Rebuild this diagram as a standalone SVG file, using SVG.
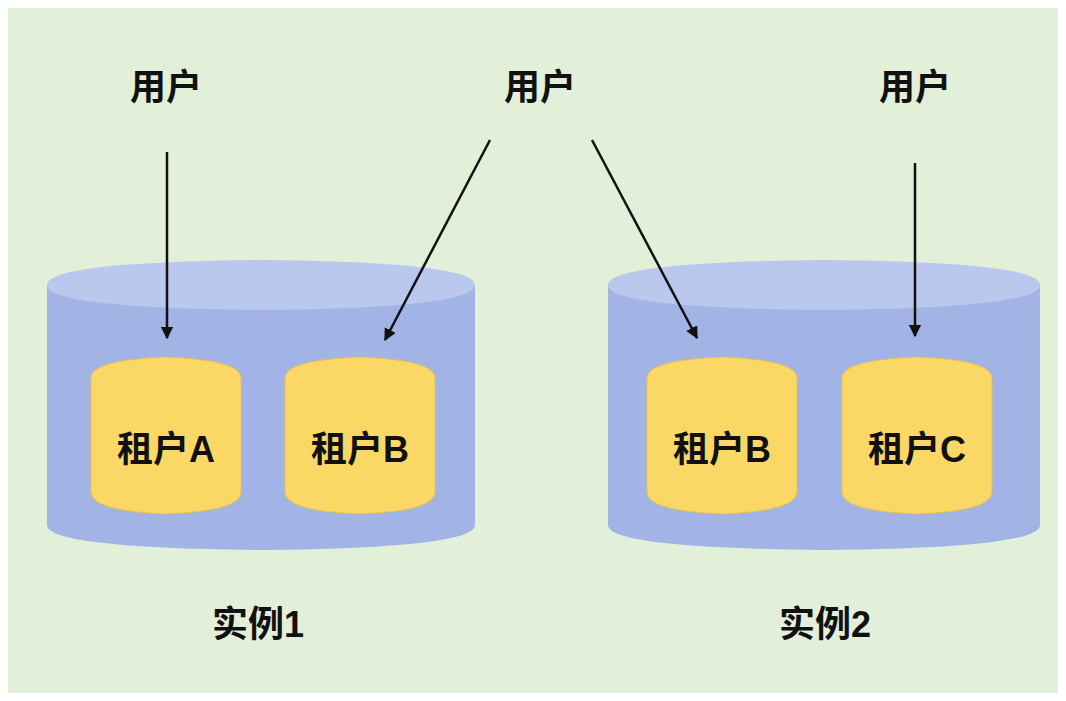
<svg xmlns="http://www.w3.org/2000/svg" width="1066" height="701" viewBox="0 0 1066 701">
<defs>
<style>
.lbl{font-family:"Liberation Sans","Noto Sans CJK SC",sans-serif;font-weight:bold;font-size:36px;fill:#111;text-anchor:middle}
.body{fill:#a2b3e5}
.top{fill:#bac8ee}
.tenant{fill:#fbd866;stroke:#e9c24e;stroke-width:1}
.conn{stroke:#111;stroke-width:2.5;fill:none;marker-end:url(#ah)}
</style>
<marker id="ah" viewBox="0 0 10 10" refX="9" refY="5" markerWidth="5" markerHeight="5" orient="auto" markerUnits="strokeWidth">
<path d="M0,0 L10,5 L0,10 Z" fill="#111"/>
</marker>
</defs>
<rect width="1066" height="701" fill="#ffffff"/>
<rect x="8" y="8" width="1050" height="685" fill="#e2efd9"/>

<g id="instance1">
<path class="body" d="M47,285 L47,525 Q47,548 261,550 Q475,548 475,525 L475,285 Z"/>
<path class="top" d="M47,285 Q47,262 261,260 Q475,262 475,285 Q475,308 261,310 Q47,308 47,285 Z"/>
<text class="lbl" x="258" y="637">实例1</text>
</g>
<g id="instance2">
<path class="body" d="M608,285 L608,525 Q608,548 824,550 Q1040,548 1040,525 L1040,285 Z"/>
<path class="top" d="M608,285 Q608,262 824,260 Q1040,262 1040,285 Q1040,308 824,310 Q608,308 608,285 Z"/>
<text class="lbl" x="825" y="637">实例2</text>
</g>

<g id="tenantA1">
<path class="tenant" d="M91,378 Q91,360 166,357 Q241,360 241,378 L241,492 Q241,511 166,514 Q91,511 91,492 Z"/>
<text class="lbl" x="166" y="462">租户A</text>
</g>
<g id="tenantB1">
<path class="tenant" d="M285,378 Q285,360 360,357 Q435,360 435,378 L435,492 Q435,511 360,514 Q285,511 285,492 Z"/>
<text class="lbl" x="360" y="462">租户B</text>
</g>
<g id="tenantB2">
<path class="tenant" d="M647,378 Q647,360 722,357 Q797,360 797,378 L797,492 Q797,511 722,514 Q647,511 647,492 Z"/>
<text class="lbl" x="722" y="462">租户B</text>
</g>
<g id="tenantC2">
<path class="tenant" d="M842,378 Q842,360 917,357 Q992,360 992,378 L992,492 Q992,511 917,514 Q842,511 842,492 Z"/>
<text class="lbl" x="917" y="462">租户C</text>
</g>

<g id="user1"><text class="lbl" x="166" y="100">用户</text></g>
<g id="user2"><text class="lbl" x="540" y="100">用户</text></g>
<g id="user3"><text class="lbl" x="915" y="100">用户</text></g>

<g id="connectors">
<line class="conn" x1="167" y1="152" x2="167" y2="338"/>
<line class="conn" x1="490" y1="140" x2="385" y2="340"/>
<line class="conn" x1="592" y1="140" x2="697" y2="338"/>
<line class="conn" x1="915" y1="163" x2="915" y2="336"/>
</g>
</svg>
